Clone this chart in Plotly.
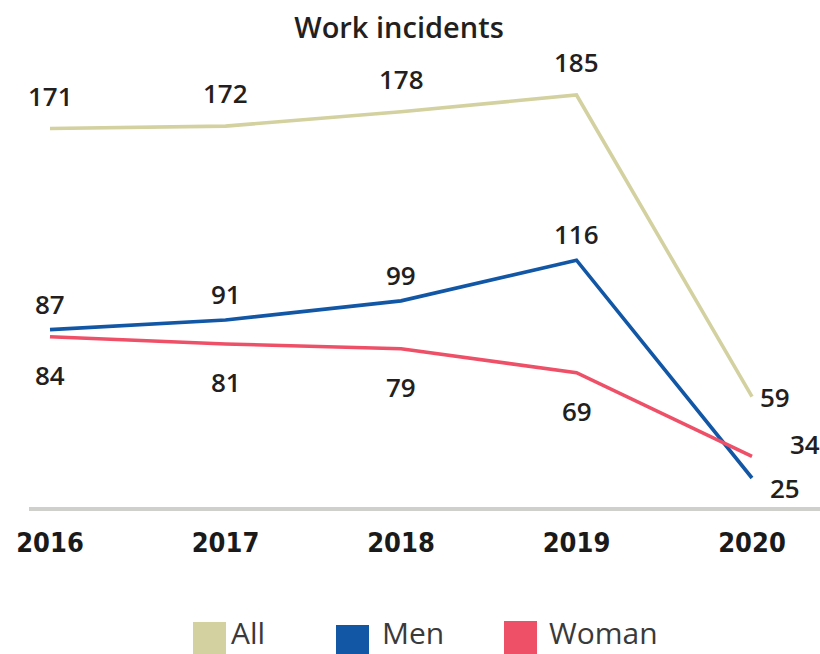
import plotly.graph_objects as go

# Yearly counts of work incidents
years = [2016, 2017, 2018, 2019, 2020]
year_labels = ["2016", "2017", "2018", "2019", "2020"]
all_counts = [171, 172, 178, 185, 59]
men_counts = [87, 91, 99, 116, 25]
woman_counts = [84, 81, 79, 69, 34]

series_names = ["All", "Men", "Woman"]
series_colors = ["#d3d1a0", "#1257a6", "#ee5068"]

W, H = 820, 654
PLOT_L, PLOT_R, PLOT_T, PLOT_B = 29, 820, 60, 507
YEAR_PX = 175.5          # horizontal pixels per year
FIRST_YEAR_PX = 50       # where 2016 sits


def px_x(px):
    return px / W


def px_y(py):
    return (PLOT_B - py) / (PLOT_B - PLOT_T)


fig = go.Figure()
for name, vals, color in zip(series_names, [all_counts, men_counts, woman_counts], series_colors):
    fig.add_trace(go.Scatter(
        x=years, y=vals, mode="lines", name=name,
        line=dict(color=color, width=3.6), showlegend=False,
        hoverinfo="skip",
    ))

label_font = dict(family="Open Sans, Lato, sans-serif", size=26, color="#231f20", weight=600)

# value labels: All and Men sit above their lines, Woman below
anns = []
for i, yr in enumerate(years):
    last = i == len(years) - 1
    for vals, yshift, end_shift in [
        (all_counts, 33, (6, 0)),
        (men_counts, 26, (16, -10)),
        (woman_counts, -38, (36, 12)),
    ]:
        if last:
            anns.append(dict(x=yr, y=vals[i], xref="x", yref="y", text=str(vals[i]),
                             showarrow=False, xanchor="left", yanchor="middle",
                             xshift=end_shift[0], yshift=end_shift[1], font=label_font))
        else:
            anns.append(dict(x=yr, y=vals[i], xref="x", yref="y", text=str(vals[i]),
                             showarrow=False, xanchor="center", yanchor="middle",
                             yshift=yshift, font=label_font))

# legend drawn as large swatches with text
legend_items = [(193, 622, 229), (336, 625, 380), (504, 621, 547)]
shapes = []
for (sx, sy, tx), name, color in zip(legend_items, series_names, series_colors):
    shapes.append(dict(type="rect", xref="paper", yref="paper",
                       x0=px_x(sx), x1=px_x(sx + 33), y0=px_y(sy), y1=px_y(sy + 40),
                       fillcolor=color, line=dict(width=0)))
    anns.append(dict(x=px_x(tx), y=px_y(655), xref="paper", yref="paper", text=name,
                     showarrow=False, xanchor="left", yanchor="bottom",
                     font=dict(family="Open Sans, sans-serif", size=30, color="#3a3a3a")))

fig.update_layout(
    width=W, height=H,
    margin=dict(l=0, r=0, t=PLOT_T, b=H - PLOT_B, pad=0, autoexpand=False),
    paper_bgcolor="white", plot_bgcolor="white",
    title=dict(text="Work incidents", x=399 / W, xanchor="center", xref="container",
               y=1 - 28 / H, yanchor="middle", yref="container",
               font=dict(family="Open Sans, sans-serif", size=29, color="#231f20", weight=600)),
    xaxis=dict(domain=[PLOT_L / W, 1], automargin=False,
               range=[2016 - (FIRST_YEAR_PX - PLOT_L) / YEAR_PX,
                      2016 + (W - FIRST_YEAR_PX) / YEAR_PX],
               showgrid=False, zeroline=False, showline=True, linecolor="#cfcfcb", linewidth=4,
               tickvals=years, ticktext=year_labels, ticks="", ticklabelstandoff=9,
               tickfont=dict(family="DejaVu Sans Condensed, sans-serif",
                             size=27, color="#1a1a1a", weight=700),
               fixedrange=True),
    yaxis=dict(range=[12.886, 199.62], visible=False, fixedrange=True),
    annotations=anns, shapes=shapes,
    showlegend=False,
)

fig.write_html("out.html")
